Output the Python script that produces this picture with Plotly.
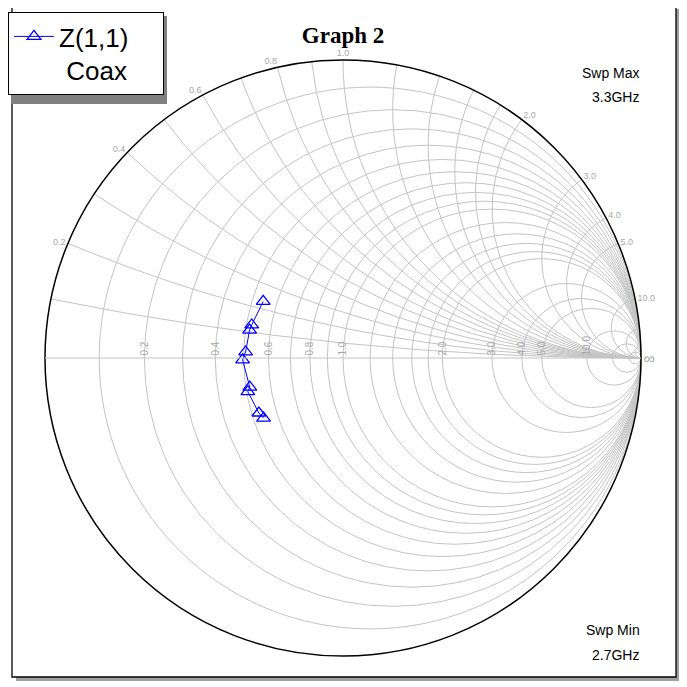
import plotly.graph_objects as go

# Data: normalized impedance Z(1,1) of "Coax", sweep 2.7 GHz -> 3.3 GHz
z_real = [0.540, 0.528, 0.505, 0.515, 0.496, 0.507, 0.515, 0.520, 0.543]
z_imag = [-0.245, -0.220, -0.129, -0.113, -0.007, 0.023, 0.108, 0.129, 0.231]
series_name = "Z(1,1)&nbsp;&nbsp;&nbsp;&nbsp;<br>&nbsp;Coax"

real_grid = [0.1, 0.2, 0.3, 0.4, 0.5, 0.6, 0.7, 0.8, 0.9, 1.0, 1.2, 1.4, 1.6,
             1.8, 2.0, 3.0, 4.0, 5.0, 10.0, 20.0, 50.0]
real_labels = [0.2, 0.4, 0.6, 0.8, 1.0, 2.0, 3.0, 4.0, 5.0, 10.0]
imag_grid = [0.1, 0.2, 0.3, 0.4, 0.5, 0.6, 0.7, 0.8, 0.9, 1.0, 1.2, 1.4, 1.6,
             1.8, 2.0, 3.0, 4.0, 5.0, 10.0, 20.0, 50.0]
imag_labels = [0.2, 0.4, 0.6, 0.8, 1.0, 2.0, 3.0, 4.0, 5.0, 10.0]

W = H = 687
OFF = 8  # page body margin


def px(x):
    return (x - OFF) / W


def py(y):
    return 1 - (y - OFF) / H


def alias(grid, labels):
    out = {"∞": " "}
    for v in grid:
        if v not in labels:
            s = f"{v:.1f}"
            out[s] = " "
            out["−" + s] = " "
            out["-" + s] = " "
    return out


fig = go.Figure()
fig.add_trace(go.Scattersmith(
    real=z_real, imag=z_imag, name=series_name, mode="lines+markers",
    line=dict(color="#0000ff", width=1),
    marker=dict(symbol="triangle-up-open", size=12, color="#0000ff",
                line=dict(width=1.3, color="#0000ff")),
    showlegend=True,
))

grid_col = "#c4c4c4"
fig.update_layout(
    width=W, height=H,
    margin=dict(l=0, r=0, t=0, b=0),
    paper_bgcolor="white",
    font=dict(family="Liberation Sans, Arial", color="#000000"),
    title=dict(text="<b>Graph 2</b>", x=px(343), y=py(35), xanchor="center",
               yanchor="middle",
               font=dict(family="Liberation Serif, Times New Roman", size=23,
                         color="#000000")),
    smith=dict(
        domain=dict(x=[px(45), px(641)], y=[py(656), py(60)]),
        bgcolor="white",
        realaxis=dict(
            tickvals=real_grid, tickformat=".1f", gridcolor=grid_col,
            gridwidth=1, linecolor=grid_col, linewidth=1, side="top",
            tickangle=-90, ticks="", labelalias=alias(real_grid, real_labels),
            tickfont=dict(size=10, color="#a8a8a8"),
        ),
        imaginaryaxis=dict(
            tickvals=imag_grid, tickformat=".1f", gridcolor=grid_col,
            gridwidth=1, linecolor="#000000", linewidth=1.5, ticks="",
            labelalias=alias(imag_grid, imag_labels),
            tickfont=dict(size=9, color="#a8a8a8"),
        ),
    ),
    legend=dict(
        x=0, y=py(12), xanchor="left", yanchor="top",
        bgcolor="white", bordercolor="#000000", borderwidth=1,
        font=dict(size=26, family="Liberation Sans, Arial", color="#000000"),
        valign="top", itemwidth=40,
    ),
    shapes=[
        # outer frame shadow + frame
        dict(type="rect", xref="paper", yref="paper", x0=px(16), x1=px(680),
             y0=py(681), y1=py(9), fillcolor="#a0a0a0", line=dict(width=0),
             layer="below"),
        dict(type="rect", xref="paper", yref="paper", x0=px(12), x1=px(676),
             y0=py(677), y1=py(5), fillcolor="white",
             line=dict(color="#000000", width=1.3), layer="below"),
        # legend shadow
        dict(type="rect", xref="paper", yref="paper", x0=px(11), x1=px(167),
             y0=py(104), y1=py(16), fillcolor="#808080", line=dict(width=0),
             layer="above"),
    ],
    annotations=[
        dict(text="Swp Max", x=px(642), y=py(73), xref="paper", yref="paper",
             xanchor="right", yanchor="middle", showarrow=False,
             font=dict(size=14)),
        dict(text="3.3GHz", x=px(641), y=py(97), xref="paper", yref="paper",
             xanchor="right", yanchor="middle", showarrow=False,
             font=dict(size=14)),
        dict(text="Swp Min", x=px(642), y=py(630), xref="paper", yref="paper",
             xanchor="right", yanchor="middle", showarrow=False,
             font=dict(size=14)),
        dict(text="2.7GHz", x=px(641), y=py(655), xref="paper", yref="paper",
             xanchor="right", yanchor="middle", showarrow=False,
             font=dict(size=14)),
    ],
)

fig.write_html("out.html")
